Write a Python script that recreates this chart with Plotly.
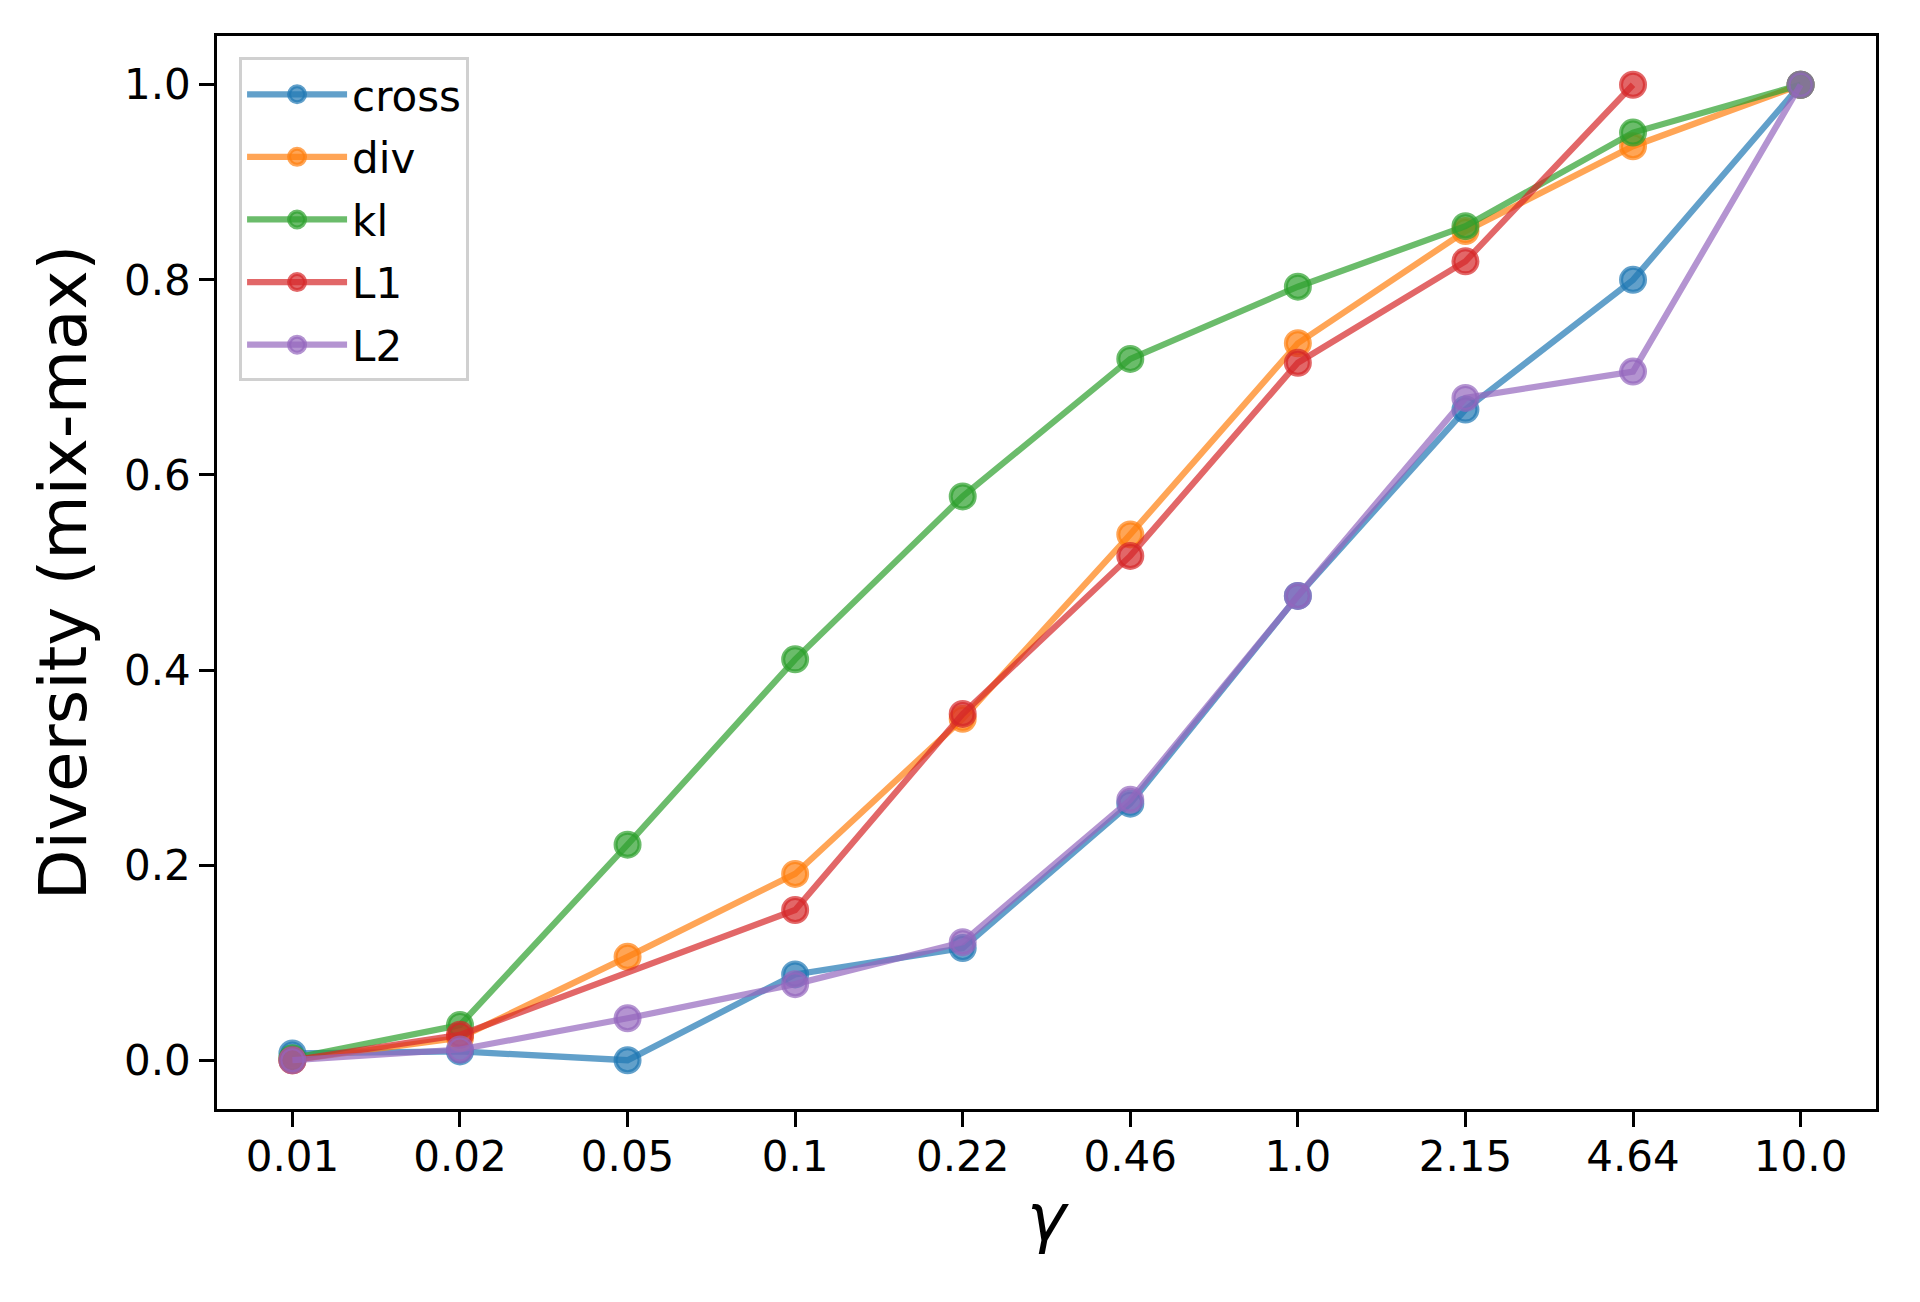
import plotly.graph_objects as go

# gamma values (categorical x axis, in plotting order)
GAMMAS = ["0.01", "0.02", "0.05", "0.1", "0.22", "0.46", "1.0", "2.15", "4.64", "10.0"]

cross_y = [0.007, 0.009, 0.0, 0.088, 0.115, 0.263, 0.476, 0.667, 0.800, 1.0]
div_y = [0.0, 0.023, 0.106, 0.191, 0.350, 0.539, 0.735, 0.850, 0.937, 1.0]
kl_y = [0.002, 0.036, 0.221, 0.411, 0.578, 0.719, 0.793, 0.855, 0.951, 1.0]
# L1 has no point at 0.05 and none at 10.0
l1_x = ["0.01", "0.02", "0.1", "0.22", "0.46", "1.0", "2.15", "4.64"]
l1_y = [0.0, 0.026, 0.154, 0.355, 0.517, 0.715, 0.819, 1.0]
l2_y = [0.0, 0.011, 0.043, 0.078, 0.121, 0.267, 0.476, 0.679, 0.706, 1.0]

SERIES = [
    ("cross", GAMMAS, cross_y, "31,119,180"),
    ("div", GAMMAS, div_y, "255,127,14"),
    ("kl", GAMMAS, kl_y, "44,160,44"),
    ("L1", l1_x, l1_y, "214,39,40"),
    ("L2", GAMMAS, l2_y, "148,103,189"),
]

FONT = "DejaVu Sans"
ALPHA = 0.7

fig = go.Figure()
for name, xs, ys, rgb in SERIES:
    col = f"rgba({rgb},{ALPHA})"
    fig.add_trace(go.Scatter(
        x=xs,
        y=ys,
        mode="lines+markers",
        name=name,
        legendgroup=name,
        line=dict(color=col, width=6.25),
        marker=dict(size=24, color=col, line=dict(color=col, width=4)),
    ))

# page body adds an 8px margin, so the figure is 16px smaller than the window
fig.update_layout(
    width=1904,
    height=1286,
    margin=dict(l=209, r=36, t=28, b=185),
    plot_bgcolor="#ffffff",
    paper_bgcolor="#ffffff",
    font=dict(family=FONT, size=42, color="#000000"),
    showlegend=True,
    legend=dict(
        x=0.0133, y=0.980,
        xanchor="left", yanchor="top",
        bgcolor="rgba(255,255,255,0.8)",
        bordercolor="#d0d0d0",
        borderwidth=3,
        font=dict(family=FONT, size=42),
        tracegroupgap=5,
        itemwidth=100,
    ),
    xaxis=dict(
        type="category",
        categoryorder="array",
        categoryarray=GAMMAS,
        range=[-0.45, 9.45],
        showgrid=False,
        zeroline=False,
        showline=True,
        mirror=True,
        linecolor="#000000",
        linewidth=3.3,
        ticks="outside",
        ticklen=14.6,
        tickwidth=3.3,
        tickcolor="#000000",
        tickfont=dict(family=FONT, size=42),
        ticklabelstandoff=-6,
        title=dict(text="<i>γ</i>", font=dict(family=FONT, size=66), standoff=14),
    ),
    yaxis=dict(
        range=[-0.05, 1.05],
        tickvals=[0.0, 0.2, 0.4, 0.6, 0.8, 1.0],
        tickformat=".1f",
        showgrid=False,
        zeroline=False,
        showline=True,
        mirror=True,
        linecolor="#000000",
        linewidth=3.3,
        ticks="outside",
        ticklen=14.6,
        tickwidth=3.3,
        tickcolor="#000000",
        tickfont=dict(family=FONT, size=42),
        title=dict(text="Diversity (mix-max)", font=dict(family=FONT, size=66), standoff=16),
    ),
)

fig.write_html("out.html")
